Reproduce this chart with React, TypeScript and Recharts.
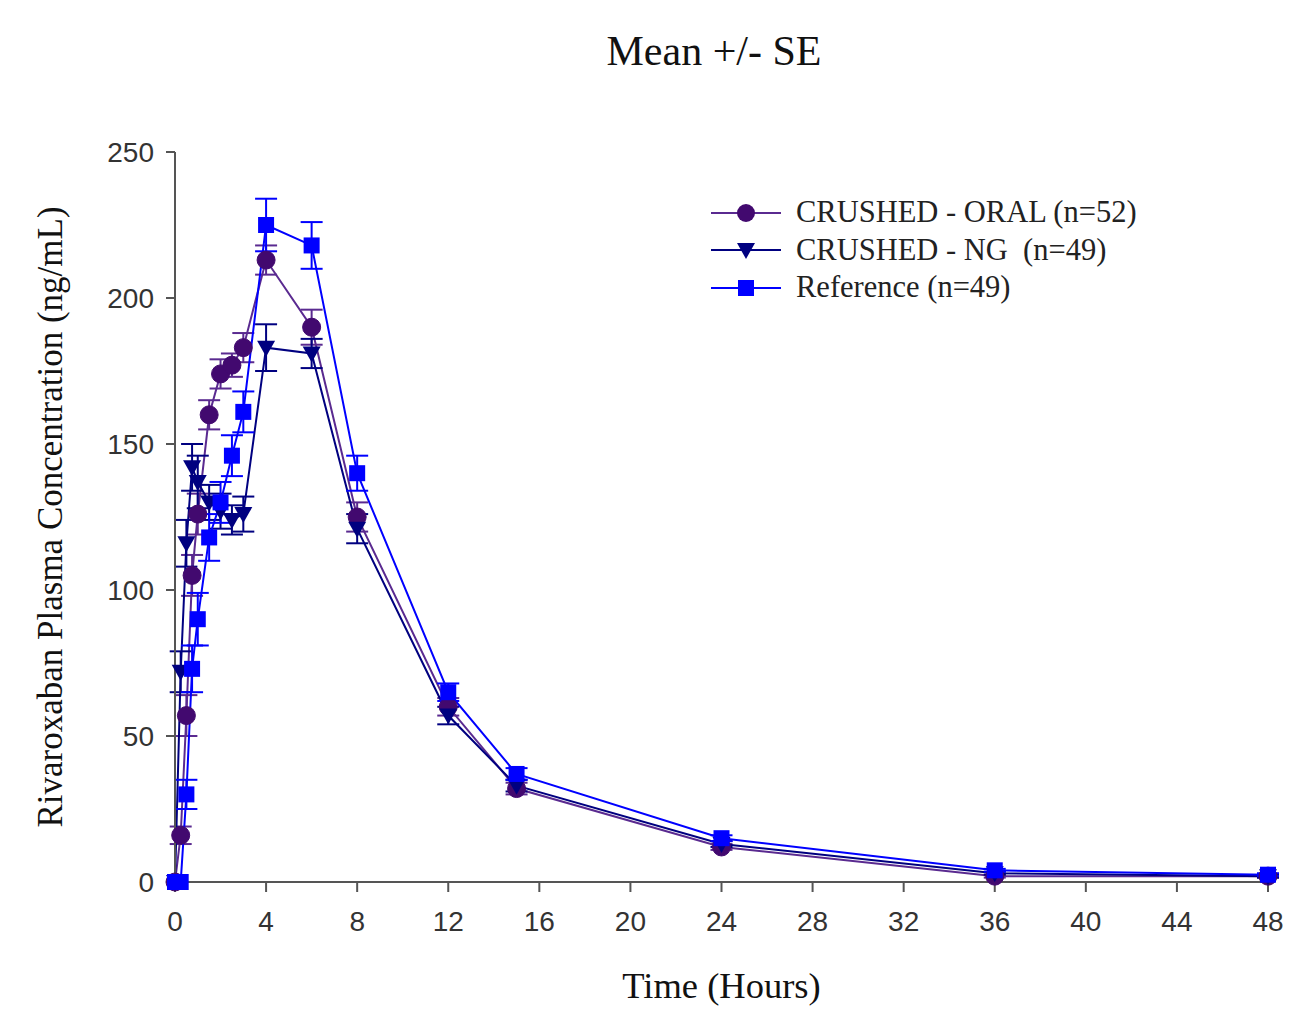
import type { ReactElement } from "react";
import { LineChart, Line, XAxis, YAxis, ErrorBar, Label } from "recharts";

// Time points (hours)
const hours = [0, 0.25, 0.5, 0.75, 1, 1.5, 2, 2.5, 3, 4, 6, 8, 12, 15, 24, 36, 48];

// CRUSHED - ORAL (n=52)
const oralMean = [0, 16, 57, 105, 126, 160, 174, 177, 183, 213, 190, 125, 60, 32, 12, 2, 2];
const oralSe = [0, 3, 7, 7, 7, 5, 5, 4, 5, 5, 6, 5, 3, 2, 1, 0.5, 0.5];

// CRUSHED - NG (n=49)
const ngMean = [0, 72, 116, 142, 137, 130, 127, 124, 126, 183, 181, 121, 57, 33, 13, 3, 2];
const ngSe = [0, 7, 8, 8, 9, 6, 6, 5, 6, 8, 5, 5, 3, 2, 1, 0.5, 0.5];

// Reference (n=49)
const refMean = [0, 0, 30, 73, 90, 118, 130, 146, 161, 225, 218, 140, 65, 37, 15, 4, 2.5];
const refSe = [0, 0, 5, 8, 9, 8, 7, 7, 7, 9, 8, 6, 3, 2, 1, 0.5, 0.5];

const xTicks = [0, 4, 8, 12, 16, 20, 24, 28, 32, 36, 40, 44, 48];
const yTicks = [0, 50, 100, 150, 200, 250];

const data = hours.map((h, i) => ({
  hour: h,
  oral: oralMean[i],
  oralSe: oralSe[i],
  ng: ngMean[i],
  ngSe: ngSe[i],
  ref: refMean[i],
  refSe: refSe[i],
}));

const ORAL_LINE = "#5a2a90";
const ORAL_DOT = "#42096f";
const NG = "#000080";
const REF = "#0000ff";

const serif = '"Liberation Serif", "Times New Roman", serif';
const sans = '"Liberation Sans", Arial, sans-serif';

// Marcadores
function Square(props: any): ReactElement {
  const { cx, cy, index } = props;
  return <rect key={`sq-${index}`} x={cx - 8} y={cy - 8} width={16} height={16} fill={REF} />;
}

function Triangle(props: any): ReactElement {
  const { cx, cy, index } = props;
  return (
    <path key={`tr-${index}`} d={`M${cx - 9},${cy - 7} L${cx + 9},${cy - 7} L${cx},${cy + 9} Z`} fill={NG} />
  );
}

const legendItems = [
  { label: "CRUSHED - ORAL (n=52)", line: ORAL_LINE, kind: "circle" },
  { label: "CRUSHED - NG  (n=49)", line: NG, kind: "triangle" },
  { label: "Reference (n=49)", line: REF, kind: "square" },
];

function ChartLegend(): ReactElement {
  return (
    <div style={{ position: "absolute", top: 186, left: 703, fontFamily: serif, fontSize: 30.5, color: "#222" }}>
      {legendItems.map((it) => (
        <div key={it.label} style={{ display: "flex", alignItems: "center", height: 37.5, whiteSpace: "pre" }}>
          <svg width={70} height={24} style={{ marginRight: 15 }}>
            <line x1={0} y1={12} x2={70} y2={12} stroke={it.line} strokeWidth={2} />
            {it.kind === "circle" && <circle cx={35} cy={12} r={9} fill={ORAL_DOT} />}
            {it.kind === "triangle" && <path d="M26,5 L44,5 L35,21 Z" fill={NG} />}
            {it.kind === "square" && <rect x={27} y={4} width={16} height={16} fill={REF} />}
          </svg>
          <span>{it.label}</span>
        </div>
      ))}
    </div>
  );
}

export default function App(): ReactElement {
  return (
    <div style={{ position: "relative", width: 1281, height: 1005, background: "#fff" }}>
      <div
        style={{
          position: "absolute",
          top: 19,
          left: 0,
          width: 1412,
          textAlign: "center",
          fontFamily: serif,
          fontSize: 42,
          color: "#111",
        }}
      >
        Mean +/- SE
      </div>
      <LineChart width={1280} height={1000} data={data} margin={{ top: 144, right: 20, left: 0, bottom: 0 }}>
        <XAxis
          dataKey="hour"
          type="number"
          domain={[0, 48]}
          ticks={xTicks}
          height={126}
          tickSize={10}
          tickMargin={19}
          stroke="#555"
          strokeWidth={2}
          tick={{ fontFamily: sans, fontSize: 28, fill: "#333" }}
        >
          <Label
            value="Time (Hours)"
            position="insideBottom"
            offset={10}
            style={{ fontFamily: serif, fontSize: 36.5, fill: "#111" }}
          />
        </XAxis>
        <YAxis
          type="number"
          domain={[0, 250]}
          ticks={yTicks}
          width={167}
          tickSize={9}
          tickMargin={12}
          stroke="#555"
          strokeWidth={2}
          tick={{ fontFamily: sans, fontSize: 28, fill: "#333" }}
        >
          <Label
            value="Rivaroxaban Plasma Concentration (ng/mL)"
            angle={-90}
            position="insideLeft"
            offset={42}
            style={{ fontFamily: serif, fontSize: 35, fill: "#111", textAnchor: "middle" }}
          />
        </YAxis>
        <Line
          dataKey="oral"
          stroke={ORAL_LINE}
          strokeWidth={2}
          dot={{ r: 9, fill: ORAL_DOT, stroke: ORAL_DOT, strokeWidth: 1 }}
          isAnimationActive={false}
        >
          <ErrorBar dataKey="oralSe" direction="y" width={11} stroke={ORAL_LINE} strokeWidth={2} />
        </Line>
        <Line dataKey="ng" stroke={NG} strokeWidth={2} dot={Triangle} isAnimationActive={false}>
          <ErrorBar dataKey="ngSe" direction="y" width={11} stroke={NG} strokeWidth={2} />
        </Line>
        <Line dataKey="ref" stroke={REF} strokeWidth={2} dot={Square} isAnimationActive={false}>
          <ErrorBar dataKey="refSe" direction="y" width={11} stroke={REF} strokeWidth={2} />
        </Line>
      </LineChart>
      <ChartLegend />
    </div>
  );
}
